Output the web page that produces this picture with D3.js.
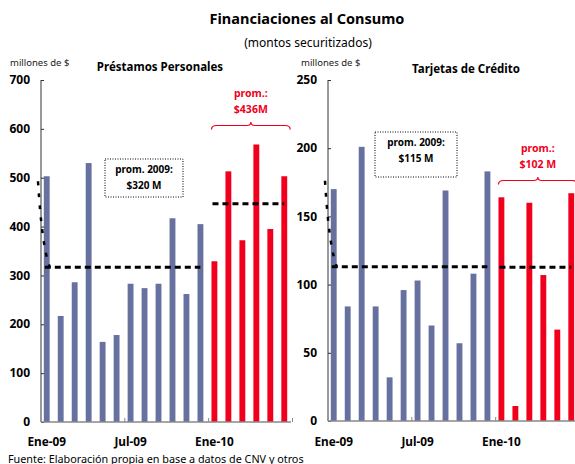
<!DOCTYPE html>
<html>
<head>
<meta charset="utf-8">
<script src="https://cdn.jsdelivr.net/npm/d3@7"></script>
<style>
  body { margin: 0; background: #fff; }
  svg { font-family: "Noto Sans", "DejaVu Sans", sans-serif; }
</style>
</head>
<body>
<div id="chart"></div>
<script>
// months shown on both panels (Ene-09 .. Jun-10)
var months = ["Ene-09", "Feb-09", "Mar-09", "Abr-09", "May-09", "Jun-09",
              "Jul-09", "Ago-09", "Sep-09", "Oct-09", "Nov-09", "Dic-09",
              "Ene-10", "Feb-10", "Mar-10", "Abr-10", "May-10", "Jun-10"];
var tickMonths = ["Ene-09", "Jul-09", "Ene-10"];

// Préstamos Personales (millones de $)
var prestamos2009 = [503, 217, 286, 530, 164, 178, 283, 274, 283, 417, 262, 405];
var prestamos2010 = [329, 513, 372, 568, 395, 503];
var prestamosTicks = [0, 100, 200, 300, 400, 500, 600, 700];

// Tarjetas de Crédito (millones de $)
var tarjetas2009 = [170, 84, 201, 84, 32, 96, 103, 70, 169, 57, 108, 183];
var tarjetas2010 = [164, 11, 160, 107, 67, 167];
var tarjetasTicks = [0, 50, 100, 150, 200, 250];

var blue = "#6771a0";
var red = "#f0001c";

var svg = d3.select("#chart").append("svg")
    .attr("width", 575)
    .attr("height", 464);

// main titles
svg.append("text").attr("x", 307).attr("y", 24)
    .attr("text-anchor", "middle").attr("font-size", 14.5).attr("font-weight", "bold")
    .text("Financiaciones al Consumo");
svg.append("text").attr("x", 308).attr("y", 47)
    .attr("text-anchor", "middle").attr("font-size", 12)
    .text("(montos securitizados)");

// source note
svg.append("text").attr("x", 8).attr("y", 462.5)
    .attr("font-size", 10.8)
    .text("Fuente: Elaboración propia en base a datos de CNV y otros");

function drawPanel(p) {
    var values = p.v2009.concat(p.v2010);
    var is2010 = function(i) { return i >= p.v2009.length; };

    var x = d3.scaleBand()
        .domain(months)
        .range([p.left, p.right])
        .paddingInner(0.58)
        .paddingOuter(0.2);
    var y = d3.scaleLinear()
        .domain([0, d3.max(p.ticks)])
        .range([p.bottom, p.top]);

    var g = svg.append("g");

    // unit + panel title
    g.append("text").attr("x", p.unitX).attr("y", 66)
        .attr("font-size", 9.5).attr("fill", "#222")
        .text("millones de $");
    g.append("text").attr("x", p.titleX).attr("y", p.titleY)
        .attr("text-anchor", "middle").attr("font-size", 11.5).attr("font-weight", "bold")
        .text(p.title);

    // bars
    g.selectAll("rect.bar")
        .data(values)
        .enter().append("rect")
        .attr("class", "bar")
        .attr("x", function(d, i) { return x(months[i]); })
        .attr("width", x.bandwidth())
        .attr("y", function(d) { return y(d); })
        .attr("height", function(d) { return y(0) - y(d); })
        .attr("fill", function(d, i) { return is2010(i) ? red : blue; });

    // y axis
    var yAxis = d3.axisRight(y).tickValues(p.ticks).tickSize(3).tickFormat("");
    var ya = g.append("g").attr("transform", "translate(" + p.left + ",0)").call(yAxis);
    ya.select(".domain").attr("d", "M0," + y(0) + "V" + y(d3.max(p.ticks)))
        .attr("stroke", "#333");
    ya.selectAll(".tick line").attr("stroke", "#333");
    g.selectAll("text.ylab")
        .data(p.ticks)
        .enter().append("text")
        .attr("class", "ylab")
        .attr("x", p.left - 11)
        .attr("y", function(d) { return y(d); })
        .attr("dy", "0.35em")
        .attr("text-anchor", "end")
        .attr("font-size", 12).attr("font-weight", "bold")
        .text(function(d) { return d; });

    // x axis: baseline + ticks every six months
    var step = x.step();
    g.append("line")
        .attr("x1", p.left).attr("x2", p.right + 1)
        .attr("y1", y(0)).attr("y2", y(0))
        .attr("stroke", "#888").attr("stroke-width", 1.5);
    g.selectAll("line.xtick")
        .data([6, 12, 18])
        .enter().append("line")
        .attr("class", "xtick")
        .attr("x1", function(d) { return p.left + d * step; })
        .attr("x2", function(d) { return p.left + d * step; })
        .attr("y1", y(0)).attr("y2", y(0) - 4)
        .attr("stroke", "#888");
    g.selectAll("text.xlab")
        .data(tickMonths)
        .enter().append("text")
        .attr("class", "xlab")
        .attr("x", function(d) { return x(d) + x.bandwidth() / 2; })
        .attr("y", 446)
        .attr("text-anchor", "middle")
        .attr("font-size", 11.8).attr("font-weight", "bold")
        .text(function(d) { return d; });

    // average lines
    var m9 = d3.mean(p.v2009), m10 = d3.mean(p.v2010);
    var n9 = p.v2009.length;
    var first9 = x(months[0]), last9 = x(months[n9 - 1]) + x.bandwidth();
    var first10 = x(months[n9]), last10 = x(months[months.length - 1]) + x.bandwidth();
    g.append("line")
        .attr("x1", first9 + 1).attr("x2", last9 - 3)
        .attr("y1", y(m9)).attr("y2", y(m9))
        .attr("stroke", "#000").attr("stroke-width", 3)
        .attr("stroke-dasharray", "6,4");
    g.append("line")
        .attr("x1", first10 + 1).attr("x2", last10 - 3)
        .attr("y1", y(m10)).attr("y2", y(m10))
        .attr("stroke", "#000").attr("stroke-width", 3)
        .attr("stroke-dasharray", "6,4");

    // stray dashed tail near the axis
    g.append("path")
        .attr("d", "M" + (p.left - 3) + "," + (y(m9) - 86) +
                   "Q" + (p.left + 1) + "," + (y(m9) - 20) + " " + (first9 + 6) + "," + y(m9))
        .attr("fill", "none").attr("stroke", "#000").attr("stroke-width", 2.5)
        .attr("stroke-dasharray", "4,8");

    // 2009 average box
    g.append("rect")
        .attr("x", p.box[0]).attr("y", p.box[1])
        .attr("width", p.box[2]).attr("height", p.box[3])
        .attr("fill", "#fff").attr("stroke", "#000").attr("stroke-width", 1)
        .attr("stroke-dasharray", "1,1.5");
    var bx = p.box[0] + p.box[2] / 2;
    g.append("text").attr("x", bx).attr("y", p.box[1] + 14)
        .attr("text-anchor", "middle").attr("font-size", 10).attr("font-weight", "bold")
        .text("prom. 2009:");
    g.append("text").attr("x", bx).attr("y", p.box[1] + 30)
        .attr("text-anchor", "middle").attr("font-size", 10).attr("font-weight", "bold")
        .text(p.box2009);

    // 2010 brace + label
    var x1 = first10, x2 = last10 + 3, xm = (x1 + x2) / 2, by = p.braceY;
    g.append("path")
        .attr("d", "M" + x1 + "," + (by + 4) +
                   "Q" + x1 + "," + by + " " + (x1 + 5) + "," + by +
                   "L" + (xm - 4) + "," + by +
                   "Q" + xm + "," + by + " " + xm + "," + (by - 3.5) +
                   "Q" + xm + "," + by + " " + (xm + 4) + "," + by +
                   "L" + (x2 - 5) + "," + by +
                   "Q" + x2 + "," + by + " " + x2 + "," + (by + 4))
        .attr("fill", "none").attr("stroke", red).attr("stroke-width", 1.2);
    g.append("text").attr("x", xm).attr("y", by - 29)
        .attr("text-anchor", "middle").attr("font-size", 10.5).attr("font-weight", "bold")
        .attr("fill", red).text("prom.:");
    g.append("text").attr("x", xm).attr("y", by - 13)
        .attr("text-anchor", "middle").attr("font-size", 10.5).attr("font-weight", "bold")
        .attr("fill", red).text(p.label2010);
}

drawPanel({
    left: 41, right: 290, top: 80, bottom: 422,
    ticks: prestamosTicks, v2009: prestamos2009, v2010: prestamos2010,
    title: "Préstamos Personales", titleX: 160, titleY: 71, unitX: 10,
    box: [105, 159, 78, 38], box2009: "$320 M",
    braceY: 125.5, label2010: "$436M"
});

drawPanel({
    left: 328, right: 577, top: 80, bottom: 421,
    ticks: tarjetasTicks, v2009: tarjetas2009, v2010: tarjetas2010,
    title: "Tarjetas de Crédito", titleX: 466, titleY: 73, unitX: 301,
    box: [375, 132, 82, 45], box2009: "$115 M",
    braceY: 180.5, label2010: "$102 M"
});
</script>
</body>
</html>
